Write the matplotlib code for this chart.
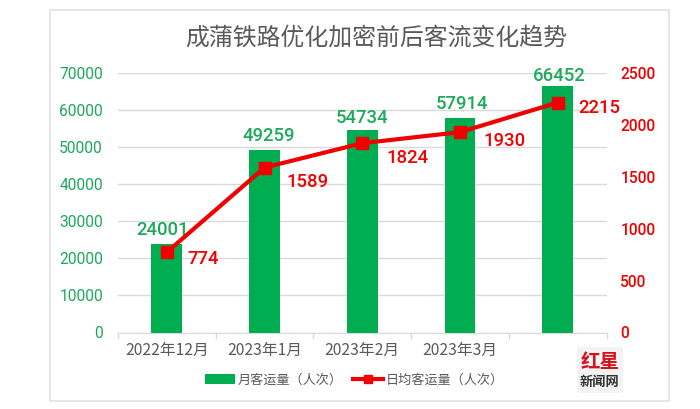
import matplotlib.pyplot as plt
from matplotlib.patches import Rectangle, FancyBboxPatch

plt.rcParams['font.family'] = ['Noto Sans CJK SC', 'DejaVu Sans']

months = ['2022年12月', '2023年1月', '2023年2月', '2023年3月', '']
monthly = [24001, 49259, 54734, 57914, 66452]
daily = [774, 1589, 1824, 1930, 2215]
left_ticks = [0, 10000, 20000, 30000, 40000, 50000, 60000, 70000]
right_ticks = [0, 500, 1000, 1500, 2000, 2500]

# hand placed label offsets, in pixels from the mark
bar_label_shift = [(-4, 14), (4, 14), (0, 12), (2, 14), (2, 10)]
line_label_shift = [(21, -7), (22, -14), (24, -15), (24, -9), (21, -5)]

W, H = 700, 409
GREEN = '#00AD50'
TICK_GREEN = '#1DA95A'
RED = '#F00000'
GREY = '#595959'
GRID = '#D9D9D9'
NUM_FONT = ['Roboto', 'DejaVu Sans']

fig = plt.figure(figsize=(W / 100, H / 100), dpi=100)
fig.patch.set_facecolor('white')

# outer chart frame, behind the axes
fig.add_artist(Rectangle((50 / W, 1 - 401 / H), 619 / W, 391 / H, transform=fig.transFigure,
                         facecolor='white', edgecolor='#E2E2E2', linewidth=1.2, zorder=-1))

ax = fig.add_axes([118 / W, 1 - 332.5 / H, 488.5 / W, 259.5 / H])
ax.set_facecolor('none')
x = list(range(len(months)))
bars = ax.bar(x, monthly, width=0.315, color=GREEN, zorder=2, label='月客运量（人次）')
ax.set_xlim(-0.5, 4.5)
ax.set_ylim(0, 70000)
ax.set_yticks(left_ticks)
ax.set_xticks([i - 0.5 for i in range(6)])
ax.set_xticklabels([])
ax.set_xticks(x, minor=True)
ax.set_xticklabels(months, minor=True, fontsize=11.3, color=GREY)
ax.tick_params(axis='x', which='major', length=4.5, color=GRID, width=1)
ax.tick_params(axis='x', which='minor', length=0, pad=7)
ax.tick_params(axis='y', length=0, labelsize=11.2, labelcolor=TICK_GREEN, pad=10.8)
for lab in ax.get_yticklabels():
    lab.set_family(NUM_FONT)
ax.grid(axis='y', color=GRID, linewidth=1, zorder=0)
for s in ['top', 'left', 'right']:
    ax.spines[s].set_visible(False)
ax.spines['bottom'].set_color(GRID)

ax2 = ax.twinx()
ax2.set_facecolor('none')
line, = ax2.plot(x, daily, color=RED, linewidth=3, marker='s', markersize=8,
                 zorder=5, label='日均客运量（人次）')
ax2.set_ylim(0, 2500)
ax2.set_yticks(right_ticks)
ax2.tick_params(axis='y', length=0, labelsize=11.2, labelcolor=RED, pad=10)
for lab in ax2.get_yticklabels():
    lab.set_family(NUM_FONT)
    lab.set_fontweight('medium')
for s in ax2.spines.values():
    s.set_visible(False)

# bar labels sit on ax2 (70000 / 2500 = 28) so they stack with the line
for xi, v, shift in zip(x, monthly, bar_label_shift):
    ax2.annotate(str(v), (xi, v / 28), xytext=shift, textcoords='offset pixels', ha='center', va='center',
                 fontsize=13.3, fontweight='medium', family=NUM_FONT, color=TICK_GREEN, zorder=4)

for xi, v, shift in zip(x, daily, line_label_shift):
    ax2.annotate(str(v), (xi, v), xytext=shift, textcoords='offset pixels', ha='left', va='center',
                 fontsize=13.3, fontweight='medium', family=NUM_FONT, color=RED, zorder=6)

fig.text(376 / W, 1 - 38 / H, '成蒲铁路优化加密前后客流变化趋势', ha='center', va='center',
         fontsize=17.2, color=GREY)

fig.legend(handles=[bars, line], loc='center', bbox_to_anchor=(354.5 / W, 1 - 380 / H), ncol=2,
           frameon=False, fontsize=9.45, labelcolor=GREY, handlelength=2.3, columnspacing=0.75,
           handletextpad=0.2, markerscale=0.7)

# red star news logo
fig.add_artist(FancyBboxPatch((577 / W, 1 - 393 / H), 46 / W, 46 / H, transform=fig.transFigure,
                              boxstyle='round,pad=0,rounding_size=0.004', facecolor='#F3F3F3',
                              edgecolor='none', zorder=8))
fig.text(600 / W, 1 - 362 / H, '红星', ha='center', va='center', fontsize=14, color='#D8101C',
         fontweight='bold', style='italic', zorder=9)
fig.text(600 / W, 1 - 382 / H, '新闻网', ha='center', va='center', fontsize=9.5, color='#333333',
         fontweight='bold', zorder=9)

fig.savefig('out.png', dpi=100)
